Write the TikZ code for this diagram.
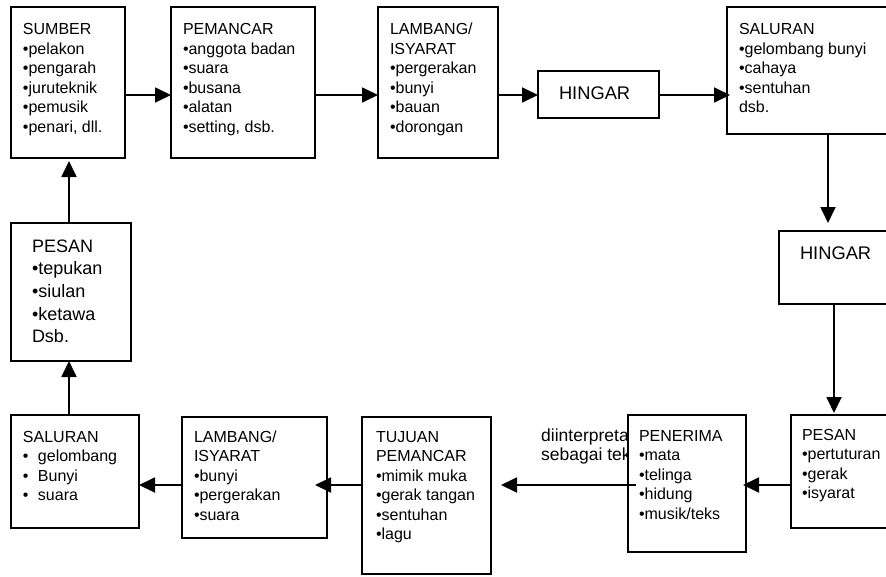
\documentclass[tikz,border=0pt]{standalone}
\usepackage{fontspec}
\setmainfont{Liberation Sans}
\usetikzlibrary{arrows.meta,calc}
\newcommand{\firstln}[1]{\rule{0pt}{#1pt}}
\begin{document}
\begin{tikzpicture}[x=1pt,y=-1pt,
  box/.style={draw, line width=1.8pt, fill=white, inner sep=0pt, outer sep=0pt, anchor=north west},
  txt/.style={anchor=north west, inner sep=0pt, outer sep=0pt, align=left, font=\fontsize{16}{19.5}\selectfont},
  bigtxt/.style={anchor=north west, inner sep=0pt, outer sep=0pt, align=left, font=\fontsize{18}{22.7}\selectfont},
  hingtxt/.style={anchor=base west, inner sep=0pt, outer sep=0pt, font=\fontsize{18.3}{22}\selectfont},
  arr/.style={line width=1.8pt, -{Triangle[length=16pt,width=15pt]}}]
\clip (0,0) rectangle (886,576);
\fill[white] (0,0) rectangle (886,576);

% row and column guides
\coordinate (r1) at (0,95);
\coordinate (r2) at (0,485);
\coordinate (c1) at (828,0);
\coordinate (c2) at (834,0);
\coordinate (c3) at (69,0);

% text partly hidden behind PENERIMA
\node[anchor=north west, inner sep=0pt, align=left, font=\fontsize{17.5}{19.5}\selectfont] (interp) at (541,428) {\firstln{13}diinterpretasi\\sebagai teks};

% boxes
\node[box, minimum width=114, minimum height=151] (sumber) at (11,7) {};
\node[box, minimum width=144, minimum height=151] (pemancar) at (171,7) {};
\node[box, minimum width=120, minimum height=151] (lambang) at (378,7) {};
\node[box, minimum width=121, minimum height=47] (hingar) at (538,71) {};
\node[box, minimum width=180, minimum height=127] (saluran) at (727,7) {};
\node[box, minimum width=130, minimum height=73] (hingarb) at (779,231) {};
\node[box, minimum width=120, minimum height=113] (pesanr) at (791,415) {};
\node[box, minimum width=118, minimum height=137] (penerima) at (628,415) {};
\node[box, minimum width=129, minimum height=157] (tujuan) at (362,417) {};
\node[box, minimum width=145, minimum height=121] (lambangb) at (182,417) {};
\node[box, minimum width=128, minimum height=113] (salurl) at (11,415) {};
\node[box, minimum width=120, minimum height=138] (pesanl) at (11,223) {};

% texts
\node[txt] (t-sumber) at (23,22.5) {\firstln{12}SUMBER\\•pelakon\\•pengarah\\•juruteknik\\•pemusik\\•penari, dll.};
\node[txt] (t-pemancar) at (183,22.5) {\firstln{12}PEMANCAR\\•anggota badan\\•suara\\•busana\\•alatan\\•setting, dsb.};
\node[txt] (t-lambang) at (390,22.5) {\firstln{12}LAMBANG/\\ISYARAT\\•pergerakan\\•bunyi\\•bauan\\•dorongan};
\node[hingtxt] (t-hingar) at (559,99.3) {HINGAR};
\node[txt] (t-saluran) at (739,22.5) {\firstln{12}SALURAN\\•gelombang bunyi\\•cahaya\\•sentuhan\\dsb.};
\node[hingtxt] (t-hingarb) at (800,259) {HINGAR};
\node[bigtxt] (t-pesanl) at (32,238) {\firstln{14}PESAN\\•tepukan\\•siulan\\•ketawa\\Dsb.};
\node[txt] (t-salurl) at (23,430) {\firstln{12}SALURAN\\\makebox[15pt][l]{•}gelombang\\\makebox[15pt][l]{•}Bunyi\\\makebox[15pt][l]{•}suara};
\node[txt] (t-lambangb) at (194,430) {\firstln{12}LAMBANG/\\ISYARAT\\•bunyi\\•pergerakan\\•suara};
\node[txt] (t-tujuan) at (376,430) {\firstln{12}TUJUAN\\PEMANCAR\\•mimik muka\\•gerak tangan\\•sentuhan\\•lagu};
\node[txt] (t-penerima) at (639,429) {\firstln{12}PENERIMA\\•mata\\•telinga\\•hidung\\•musik/teks};
\node[txt] (t-pesanr) at (802,428) {\firstln{12}PESAN\\•pertuturan\\•gerak\\•isyarat};

% connectors, top row
\draw[arr] (sumber.east |- r1) -- (pemancar.west |- r1);
\draw[arr] (pemancar.east |- r1) -- (lambang.west |- r1);
\draw[arr] (lambang.east |- r1) -- (hingar.west |- r1);
\draw[arr, shorten >=-3pt] (hingar.east |- r1) -- (saluran.west |- r1);
% right column
\draw[arr, shorten >=8pt] (saluran.south -| c1) -- (hingarb.north -| c1);
\draw[arr, shorten >=2pt] (hingarb.south -| c2) -- (pesanr.north -| c2);
% bottom row
\draw[arr, shorten >=-3pt] (pesanr.west |- r2) -- (penerima.east |- r2);
\draw[arr, shorten <=-8pt, shorten >=10pt] (penerima.west |- r2) -- (tujuan.east |- r2);
\draw[arr, shorten >=-12pt] (tujuan.west |- r2) -- (lambangb.east |- r2);
\draw[arr] (lambangb.west |- r2) -- (salurl.east |- r2);
% left column
\draw[arr] (salurl.north -| c3) -- (pesanl.south -| c3);
\draw[arr, shorten >=3pt] (pesanl.north -| c3) -- (sumber.south -| c3);
\end{tikzpicture}
\end{document}
